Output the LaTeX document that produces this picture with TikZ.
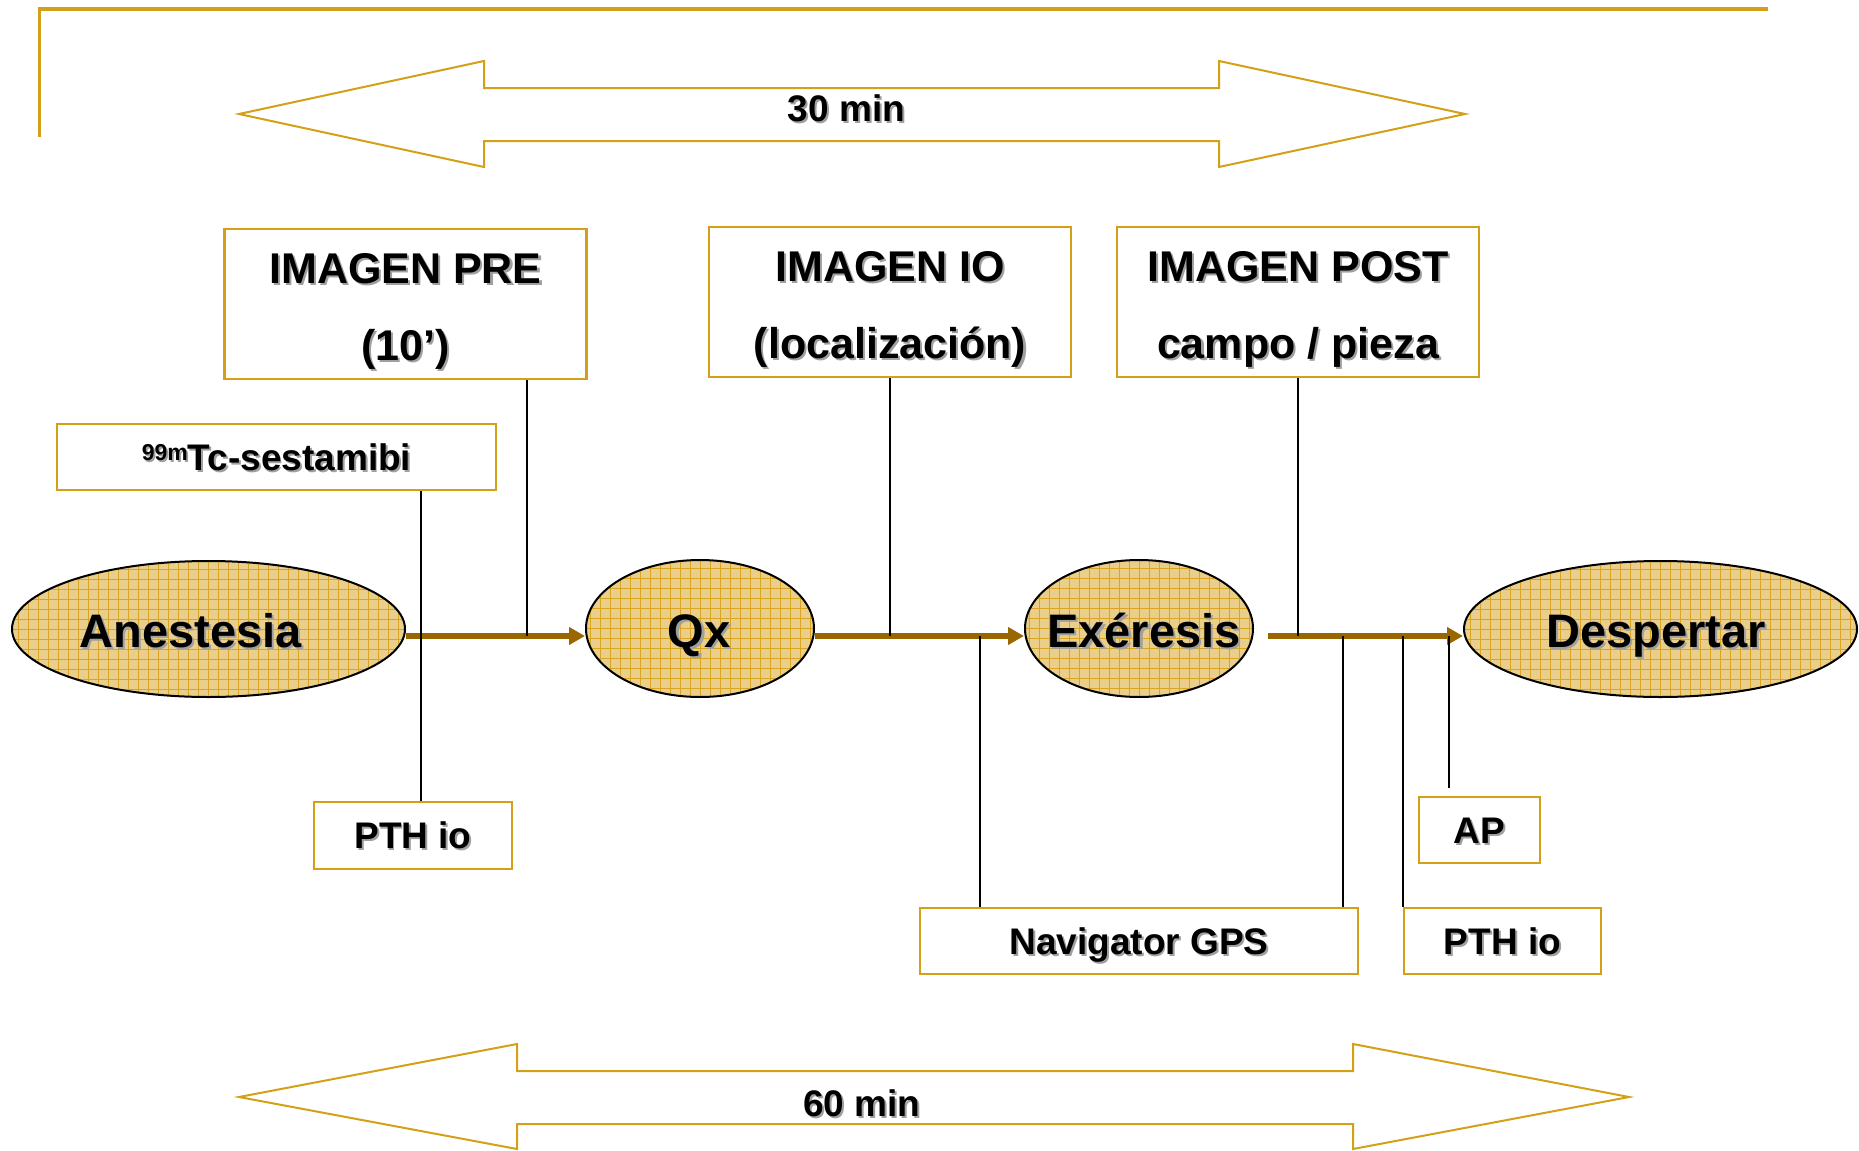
\documentclass[tikz,border=0pt]{standalone}
\usepackage{fontspec}
\setmainfont{Liberation Sans}
\usetikzlibrary{arrows.meta,shapes.geometric}
\definecolor{gold}{RGB}{212,160,23}
\definecolor{brownax}{RGB}{153,102,0}
\definecolor{tanfill}{RGB}{234,206,140}
\definecolor{gridgold}{RGB}{218,165,32}
\definecolor{shgray}{RGB}{160,160,160}
\newcommand\shd[1]{\leavevmode\rlap{\hspace{0.05em}\raisebox{-0.05em}{\textcolor{shgray}{#1}}}#1}
\begin{document}
\begin{tikzpicture}[x=0.5pt,y=-0.5pt,
  goldbox/.style={draw=gold, line width=1.25pt, fill=white, inner sep=0pt,
    font=\bfseries\fontsize{18.5}{22}\selectfont, text height=13.25pt, text depth=0pt},
  bigbox/.style={goldbox, align=center, font=\bfseries\fontsize{21.5}{38.5}\selectfont,
    text height=56pt, text depth=0pt, minimum width=181pt, minimum height=75pt},
  phase/.style={ellipse, draw=black, line width=1pt, fill=tanfill, inner sep=0pt,
    path picture={\draw[gridgold, line width=0.5pt] (path picture bounding box.south west) grid[step=5pt] (path picture bounding box.north east);}},
  phasetext/.style={anchor=base, font=\bfseries\fontsize{23.5}{28}\selectfont},
  spantext/.style={font=\bfseries\fontsize{18.5}{22}\selectfont},
  vline/.style={draw=black, line width=0.75pt},
  axarrow/.style={draw=brownax, line width=2.8pt, -{Triangle[length=8pt,width=8.5pt]}},
  hollow/.style={draw=gold, line width=1pt, line join=miter},
]
\useasboundingbox (0,0) rectangle (1859,1151);

% top border
\draw[gold, line width=1.75pt] (39.5,137) -- (39.5,9) -- (1768,9);

% span arrows
\draw[hollow] (239,114) -- (484,61) -- (484,88) -- (1219,88) -- (1219,61) -- (1465,114)
  -- (1219,167) -- (1219,141) -- (484,141) -- (484,167) -- cycle;
\node[spantext] (t30) at (846.5,109.5) {\shd{30 min}};
\draw[hollow] (239,1097) -- (517,1044) -- (517,1071) -- (1353,1071) -- (1353,1044) -- (1629,1097)
  -- (1353,1149) -- (1353,1124) -- (517,1124) -- (517,1149) -- cycle;
\node[spantext] (t60) at (862,1104.5) {\shd{60 min}};

% boxes
\node[bigbox] (pre) at (405.5,304) {\shd{IMAGEN PRE}\\\shd{(10’)}};
\node[bigbox] (io) at (890,302) {\shd{IMAGEN IO}\\\shd{(localización)}};
\node[bigbox] (post) at (1298,302) {\shd{IMAGEN POST}\\\shd{campo / pieza}};
\node[goldbox, minimum width=219.5pt, minimum height=33pt] (tc) at (276.5,457)
  {\shd{\raisebox{5pt}{\fontsize{11.5}{12}\selectfont 99m}Tc-sestamibi}};
\node[goldbox, minimum width=99pt, minimum height=33.5pt] (pth1) at (413,835.5) {\shd{PTH io}};
\node[goldbox, minimum width=219pt, minimum height=33pt] (nav) at (1139,941) {\shd{Navigator GPS}};
\node[goldbox, minimum width=98.5pt, minimum height=33pt] (pth2) at (1502.5,941) {\shd{PTH io}};
\node[goldbox, minimum width=60.5pt, minimum height=33pt] (ap) at (1479.5,830) {\shd{AP}};

% phases
\node[phase, minimum width=196.5pt, minimum height=68pt] (anest) at (208.5,629) {};
\node[phase, minimum width=114pt, minimum height=68.5pt] (qx) at (700,628.5) {};
\node[phase, minimum width=114pt, minimum height=68.5pt] (exer) at (1139,628.5) {};
\node[phase, minimum width=196.5pt, minimum height=68pt] (desp) at (1660.5,629) {};
\node[phasetext] (anestT) at (190.5,647) {\shd{Anestesia}};
\node[phasetext] (qxT) at (699,647) {\shd{Qx}};
\node[phasetext] (exerT) at (1144,647) {\shd{Exéresis}};
\node[phasetext] (despT) at (1656,647) {\shd{Despertar}};

% helper coordinates
\coordinate (ax) at (0,636);
\coordinate (c1) at (421,0);
\coordinate (c2) at (527,0);
\coordinate (c4) at (980,0);
\coordinate (c6) at (1343,0);
\coordinate (start3) at (1268,636);
\coordinate (apend) at (1449,788);

% axis
\draw[axarrow] (anest.east |- ax) -- (qx.west |- ax);
\draw[axarrow] (qx.east |- ax) -- (exer.west |- ax);
\draw[axarrow] (start3) -- (desp.west |- ax);

% vertical links
\draw[vline] (tc.south -| c1) -- (pth1.north -| c1);
\draw[vline] (pre.south -| c2) -- (ax -| c2);
\draw[vline] (io.south) -- (io.south |- ax);
\draw[vline] (ax -| c4) -- (nav.north -| c4);
\draw[vline] (post.south) -- (post.south |- ax);
\draw[vline] (ax -| c6) -- (nav.north -| c6);
\draw[vline] (ax -| pth2.north west) -- (pth2.north west);
\draw[vline] (ax -| apend) -- (apend);
\end{tikzpicture}
\end{document}
